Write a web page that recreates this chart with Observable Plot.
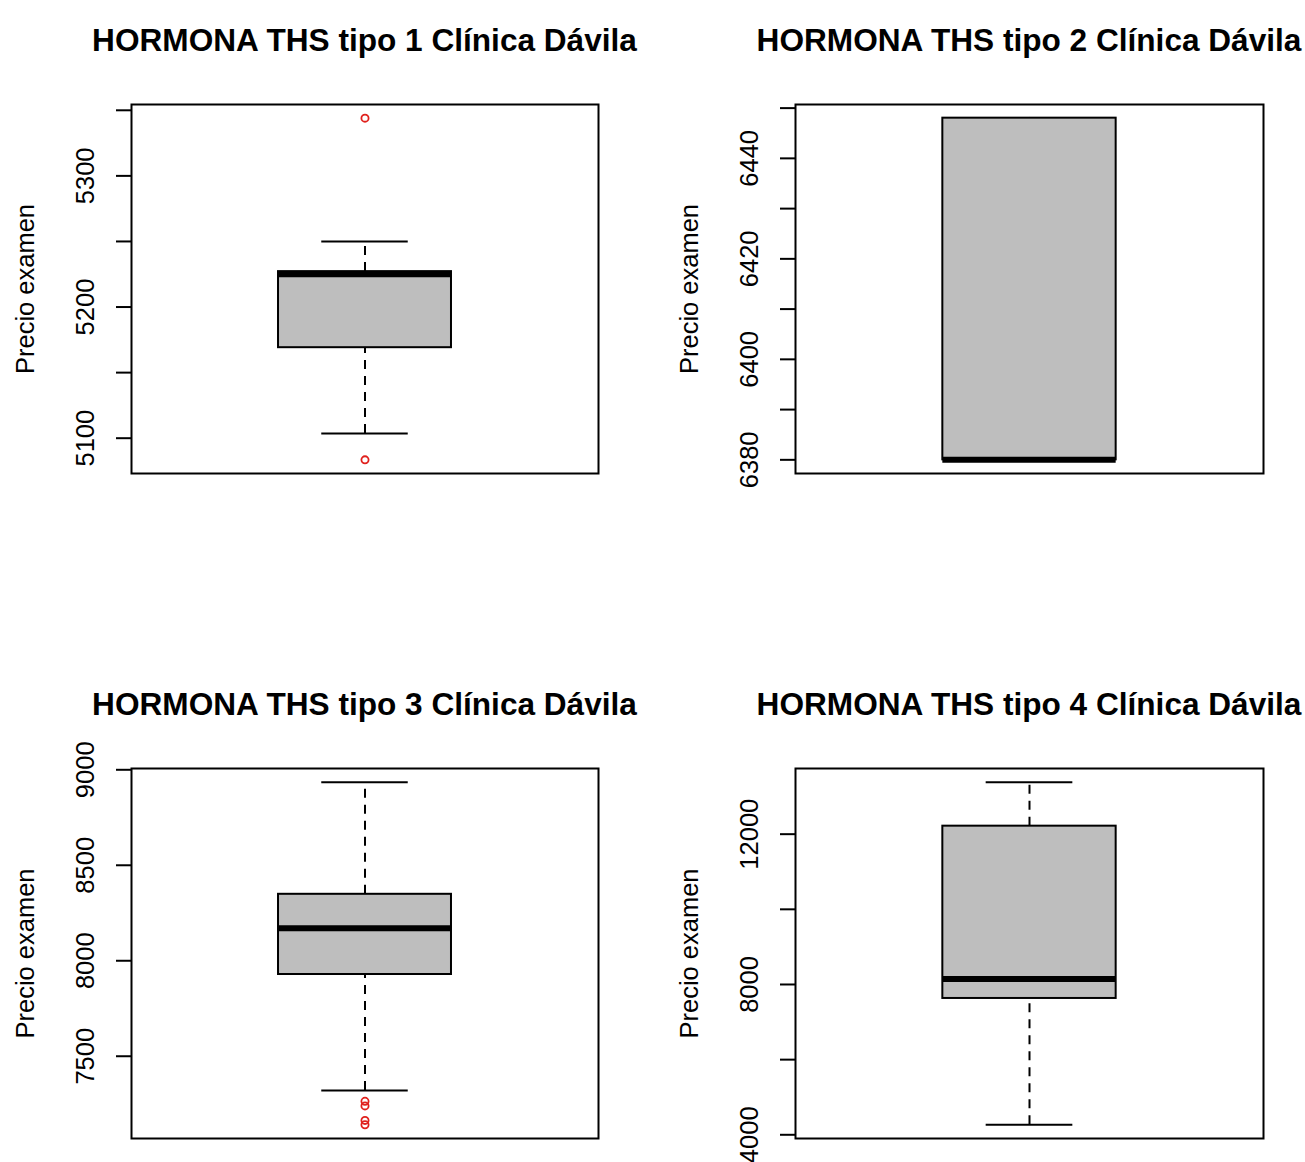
<!DOCTYPE html>
<html>
<head>
<meta charset="utf-8">
<script src="https://cdn.jsdelivr.net/npm/d3@7"></script>
<script src="https://cdn.jsdelivr.net/npm/@observablehq/plot@0.6"></script>
<style>
  html, body { margin: 0; padding: 0; background: #fff; }
  #root { position: relative; width: 1305px; height: 1162px; overflow: hidden; background: #fff;
          font-family: "Liberation Sans", Arial, sans-serif; }
  .title { position: absolute; width: 1000px; text-align: center; white-space: nowrap;
           font-weight: bold; font-size: 31.6px; line-height: 31.6px; color: #000; }
  .panel { position: absolute; }
  .panel svg { overflow: visible; }
</style>
</head>
<body>
<div id="root"></div>
<script>
// ---- Data ----
const titles = [
  "HORMONA THS tipo 1 Clínica Dávila",
  "HORMONA THS tipo 2 Clínica Dávila",
  "HORMONA THS tipo 3 Clínica Dávila",
  "HORMONA THS tipo 4 Clínica Dávila"
];
const yLabel = "Precio examen";
const lowerWhisker = [5103.5, 6380, 7320, 4266];
const q1Values     = [5169, 6380, 7928, 7628];
const medianValues = [5225, 6380, 8170, 8149];
const q3Values     = [5227, 6448, 8348, 12213];
const upperWhisker = [5250, 6448, 8935, 13383];
const outlierValues = [
  [5344, 5083.5],
  [],
  [7264, 7240, 7164, 7141],
  []
];
const yTicks = [
  [5100, 5150, 5200, 5250, 5300, 5350],
  [6380, 6390, 6400, 6410, 6420, 6430, 6440, 6450],
  [7500, 8000, 8500, 9000],
  [4000, 6000, 8000, 10000, 12000]
];
const yTickLabels = [
  [5100, 5200, 5300],
  [6380, 6400, 6420, 6440],
  [7500, 8000, 8500, 9000],
  [4000, 8000, 12000]
];

// ---- Layout ----
const layout = [
  {left: 0,   top: 70,  width: 652, height: 430, mL: 131, mR: 54, mT: 34, mB: 27, titleTop: 25},
  {left: 660, top: 70,  width: 645, height: 430, mL: 135, mR: 42, mT: 34, mB: 27, titleTop: 25},
  {left: 0,   top: 735, width: 652, height: 427, mL: 131, mR: 54, mT: 33, mB: 24, titleTop: 689},
  {left: 660, top: 735, width: 645, height: 427, mL: 135, mR: 42, mT: 33, mB: 24, titleTop: 689}
];

const root = document.getElementById("root");

titles.forEach((title, i) => {
  const L = layout[i];
  const stats = [{
    lw: lowerWhisker[i], q1: q1Values[i], med: medianValues[i],
    q3: q3Values[i], uw: upperWhisker[i]
  }];
  const lo = Math.min(lowerWhisker[i], ...outlierValues[i]);
  const hi = Math.max(upperWhisker[i], ...outlierValues[i]);
  const pad = (hi - lo) * 0.04;

  const chart = Plot.plot({
    width: L.width,
    height: L.height,
    marginLeft: L.mL,
    marginRight: L.mR,
    marginTop: L.mT,
    marginBottom: L.mB,
    x: {domain: [0.46, 1.54], axis: null},
    y: {domain: [lo - pad, hi + pad], axis: null},
    style: {
      fontFamily: '"Liberation Sans", Arial, sans-serif',
      fontSize: "25.5px",
      color: "#000",
      background: "transparent",
      overflow: "visible"
    },
    marks: [
      // whiskers (dashed)
      Plot.ruleX(stats, {x: 1, y1: "q3", y2: "uw", stroke: "#000", strokeWidth: 2, strokeDasharray: "9,7"}),
      Plot.ruleX(stats, {x: 1, y1: "lw", y2: "q1", stroke: "#000", strokeWidth: 2, strokeDasharray: "9,7"}),
      // staples
      Plot.ruleY(stats, {y: "uw", x1: 0.9, x2: 1.1, stroke: "#000", strokeWidth: 2}),
      Plot.ruleY(stats, {y: "lw", x1: 0.9, x2: 1.1, stroke: "#000", strokeWidth: 2}),
      // box
      Plot.rect(stats, {x1: 0.8, x2: 1.2, y1: "q1", y2: "q3", fill: "#bebebe", stroke: "#000", strokeWidth: 2}),
      // median
      Plot.ruleY(stats, {y: "med", x1: 0.8, x2: 1.2, stroke: "#000", strokeWidth: 6}),
      // outliers
      Plot.dot(outlierValues[i], {x: () => 1, y: d => d, r: 3.6, stroke: "#e0201c", strokeWidth: 1.8, fill: "none"}),
      // y axis ticks
      Plot.axisY(yTicks[i], {anchor: "left", tickSize: 15, tickFormat: () => "", stroke: "#000", strokeWidth: 2, label: null}),
      // y tick labels (rotated, parallel to axis)
      Plot.text(yTickLabels[i], {
        y: d => d, text: d => String(d), frameAnchor: "left",
        rotate: -90, textAnchor: "middle", lineAnchor: "bottom",
        dx: -37.5, fontSize: 25.5, fill: "#000"
      }),
      // y axis title
      Plot.text([yLabel], {
        text: d => d, frameAnchor: "left",
        rotate: -90, textAnchor: "middle", lineAnchor: "bottom",
        dx: -98, fontSize: 25.5, fill: "#000"
      }),
      Plot.frame({stroke: "#000", strokeWidth: 2})
    ]
  });

  const wrap = document.createElement("div");
  wrap.className = "panel";
  wrap.style.left = L.left + "px";
  wrap.style.top = L.top + "px";
  wrap.appendChild(chart);
  root.appendChild(wrap);

  const t = document.createElement("div");
  t.className = "title";
  t.textContent = title;
  const cx = L.left + L.mL + (L.width - L.mL - L.mR) / 2;
  t.style.left = (cx - 500) + "px";
  t.style.top = L.titleTop + "px";
  root.appendChild(t);
});
</script>
</body>
</html>
